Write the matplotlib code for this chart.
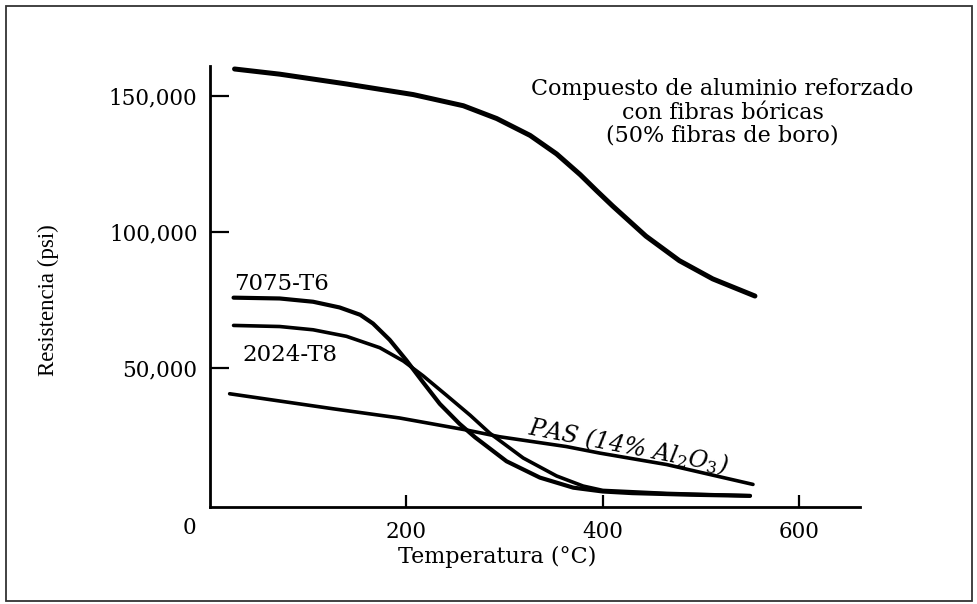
import matplotlib
matplotlib.use('Agg')
import matplotlib.pyplot as plt
import matplotlib.transforms as mtransforms
from matplotlib.patches import Rectangle

# valores (temperatura en C, resistencia en psi)
temp_boro = [25, 71, 139, 207, 258, 292, 326, 353, 377, 394, 410, 444, 478, 512, 555]
res_boro = [159800, 157900, 154300, 150400, 146300, 141600, 135400, 128600, 121000, 115000,
             109500, 98400, 89400, 82700, 76400]

temp_7075 = [24, 71, 105, 132, 153, 166, 183, 200, 217, 234, 254, 270, 302, 336, 370, 400,
             430, 490, 550]
res_7075 = [75800, 75500, 74300, 72200, 69500, 66300, 60300, 52800, 44700, 36800, 29500,
            24500, 15700, 9700, 6000, 4600, 4000, 3400, 3000]

temp_2024 = [24, 71, 105, 139, 173, 197, 217, 241, 265, 285, 319, 353, 380, 400, 465, 550]
res_2024 = [65600, 65200, 64000, 61600, 57400, 52500, 47100, 39900, 32600, 26000, 16900,
            10300, 6600, 5000, 3900, 3000]

temp_pas = [20, 125, 193, 261, 295, 363, 397, 465, 553]
res_pas = [40500, 35000, 31600, 27200, 24700, 21100, 18700, 14500, 7200]

x_ticks = [200, 400, 600]
y_ticks = [50000, 100000, 150000]
y_labels = ['50,000', '100,000', '150,000']

serif = 'DejaVu Serif'
plt.rcParams['mathtext.fontset'] = 'dejavuserif'

fig = plt.figure(figsize=(9.77, 6.04), dpi=100)
ax = fig.add_axes([210/977, 1-507/604, 650/977, 441/604])

ax.plot(temp_boro, res_boro, color='black', lw=3.6, solid_capstyle='round', solid_joinstyle='round')
ax.plot(temp_7075, res_7075, color='black', lw=3.0, solid_capstyle='round', solid_joinstyle='round')
ax.plot(temp_2024, res_2024, color='black', lw=2.6, solid_capstyle='round', solid_joinstyle='round')
ax.plot(temp_pas, res_pas, color='black', lw=2.6, solid_capstyle='round', solid_joinstyle='round')

ax.set_xlim(0, 662)
ax.set_ylim(-1100, 160900)

for s in ['top', 'right']:
    ax.spines[s].set_visible(False)
for s in ['left', 'bottom']:
    ax.spines[s].set_linewidth(2.0)

ax.set_xticks(x_ticks)
ax.set_xticklabels([str(t) for t in x_ticks], fontfamily=serif, fontsize=15.5)
ax.set_yticks(y_ticks)
ax.set_yticklabels(y_labels, fontfamily=serif, fontsize=15.5)
ax.tick_params(axis='x', direction='in', length=9, width=1.6, pad=10)
ax.tick_params(axis='y', direction='in', length=14, width=1.6, pad=9)

# el "0" del origen va desplazado a la izquierda
trans = mtransforms.blended_transform_factory(ax.transData, ax.transAxes)
ax.text(-21, -0.022, '0', transform=trans, ha='center', va='top',
        fontfamily=serif, fontsize=15.5, clip_on=False)

ax.text(522, 143800, 'Compuesto de aluminio reforzado\ncon fibras bóricas\n(50% fibras de boro)',
        ha='center', va='center', fontfamily=serif, fontsize=16, linespacing=1.08)
ax.text(25, 80800, '7075-T6', ha='left', va='center', fontfamily=serif, fontsize=16.5)
ax.text(33, 54700, '2024-T8', ha='left', va='center', fontfamily=serif, fontsize=16.5)
ax.text(426, 21300, r'PAS (14% Al$_2$O$_3$)', ha='center', va='center', rotation=-11,
        rotation_mode='anchor', fontfamily=serif, fontstyle='italic', fontsize=17)

fig.text(497/977, 1-557/604, 'Temperatura (°C)', ha='center', va='center',
         fontfamily=serif, fontsize=16)
fig.text(48/977, 1-300/604, 'Resistencia (psi)', ha='center', va='center', rotation=90,
         fontfamily='Liberation Serif', fontsize=16.5)

# marco de la figura
fig.patches.append(Rectangle((6/977, 3/604), 966/977, 595/604, transform=fig.transFigure,
                             fill=False, edgecolor='#333333', lw=1.3))

fig.savefig('out.png', dpi=100)
